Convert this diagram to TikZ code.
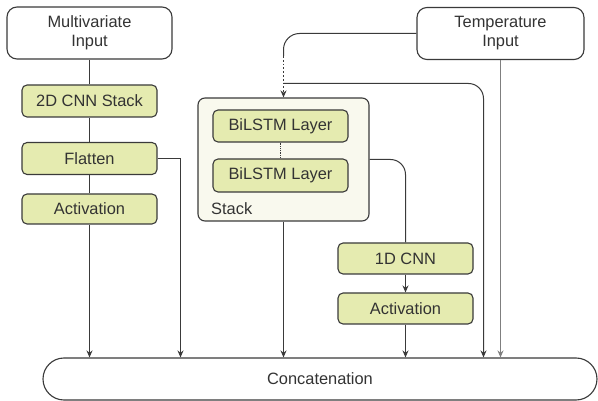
\documentclass[tikz,border=0pt]{standalone}
\usepackage{fontspec}
\setmainfont{Liberation Sans}
\usetikzlibrary{arrows.meta}
\definecolor{boxfill}{HTML}{E5EBB0}
\definecolor{stackfill}{HTML}{F9F9EE}
\definecolor{edge}{HTML}{3A3A3A}
\definecolor{txt}{HTML}{333333}
\begin{document}
\begin{tikzpicture}[x=1pt,y=-1pt,
  every node/.style={font=\fontsize{16.4}{19}\selectfont, text=txt},
  inbox/.style={draw=edge, line width=1.1pt, rounded corners=10pt, fill=white, align=center, inner sep=0pt},
  gbox/.style={draw=edge, line width=1.1pt, rounded corners=5pt, fill=boxfill, minimum width=135pt, inner sep=0pt},
  conn/.style={draw=edge, line width=1pt},
  arr/.style={conn, -{Stealth[length=7pt,width=6pt]}}]
\useasboundingbox (0,0) rectangle (598,401);
% nodes
\node[inbox, minimum width=165pt, minimum height=52pt] (multi) at (89.5,33) {Multivariate\\Input};
\node[gbox, minimum height=32pt] (cnn2d) at (89.5,101) {2D CNN Stack};
\node[gbox, minimum height=32pt] (flat) at (89.5,158.5) {Flatten};
\node[gbox, minimum height=30pt] (act1) at (89.5,209) {Activation};
\node[draw=edge, line width=1.1pt, rounded corners=7pt, fill=stackfill, minimum width=171pt, minimum height=123pt, inner sep=0pt] (stack) at (283.5,159.5) {};
\node[gbox, minimum height=32pt] (bl1) at (280.5,126) {BiLSTM Layer};
\node[gbox, minimum height=33pt] (bl2) at (280.5,175.5) {BiLSTM Layer};
\node[anchor=west, inner sep=0pt] (stacklbl) at (211,208.5) {Stack};
\node[inbox, minimum width=167pt, minimum height=52pt] (temp) at (500.5,33.5) {Temperature\\Input};
\node[gbox, minimum height=31pt] (cnn1d) at (405.5,258.5) {1D CNN};
\node[gbox, minimum height=31pt] (act2) at (405.5,308.5) {Activation};
\node[draw=edge, line width=1.1pt, rounded corners=21pt, fill=white, minimum width=554pt, minimum height=42pt, inner sep=0pt] (concat) at (320,379) {Concatenation};
% left column
\draw[conn] (multi.south) -- (cnn2d.north);
\draw[conn] (cnn2d.south) -- (flat.north);
\draw[conn] (flat.south) -- (act1.north);
\draw[arr] (act1.south) -- (act1.south |- concat.north);
\coordinate (fx) at (180.5,0);
\draw[arr] (flat.east) -| (fx |- concat.north);
% stack
\draw[edge, line width=0.8pt, densely dotted] (bl1.south) -- (bl1.south |- bl2.north);
\draw[arr] (stack.south) -- (stack.south |- concat.north);
\draw[conn, rounded corners=15pt] (stack.east) -| (cnn1d.north);
\draw[arr] (cnn1d.south) -- (act2.north);
\draw[arr] (act2.south) -- (act2.south |- concat.north);
% temperature
\draw[arr, draw=edge!65] (temp.south) -- (temp.south |- concat.north);
\coordinate (dtop) at (283.5,56);
\draw[conn, rounded corners=16pt] (temp.west) -| (dtop);
\draw[conn, line width=1.8pt, dotted, -{Stealth[length=7pt,width=6pt]}] (dtop) -- (stack.north);
\coordinate (hj) at (283.5,83.5);
\coordinate (rx) at (483.5,0);
\draw[arr, rounded corners=15pt] (hj) -| (rx |- concat.north);
\end{tikzpicture}
\end{document}
